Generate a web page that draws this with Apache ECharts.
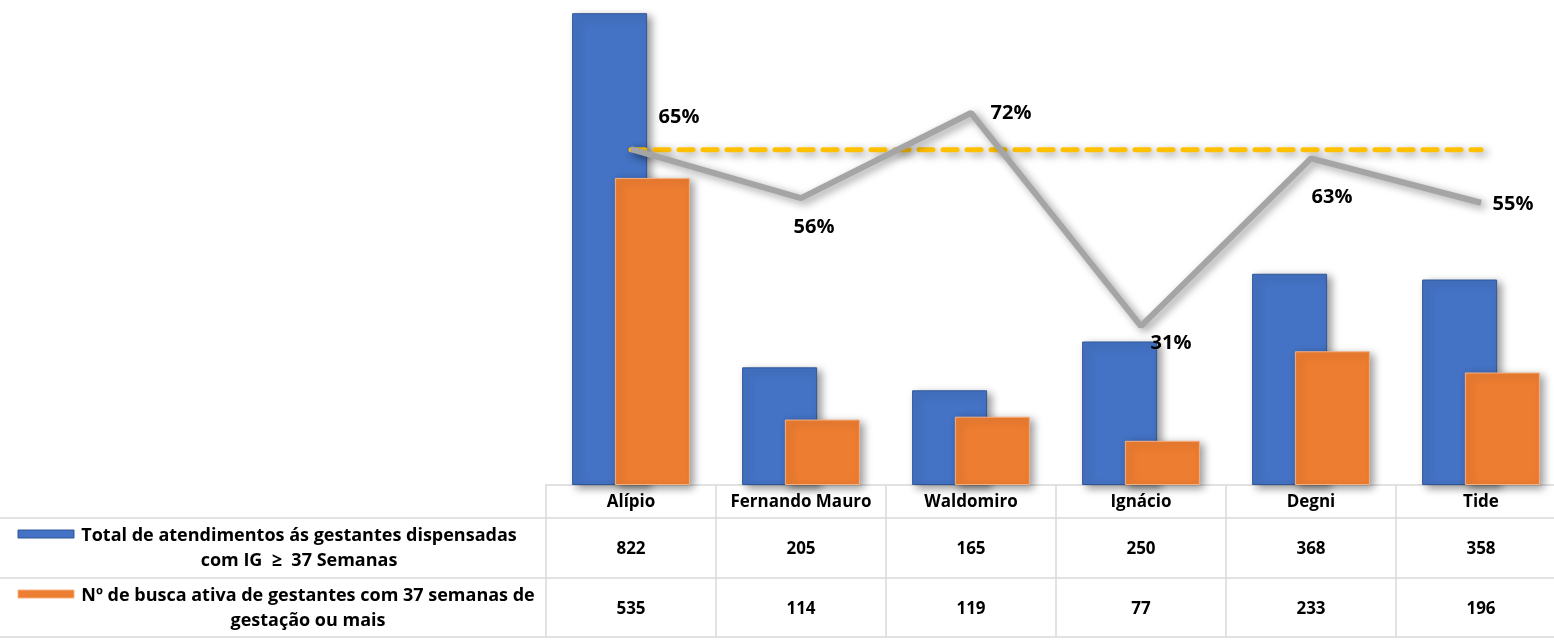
<!DOCTYPE html>
<html><head><meta charset="utf-8">
<script src="https://cdn.jsdelivr.net/npm/echarts@6/dist/echarts.min.js"></script>
<style>html,body{margin:0;padding:0;background:#fff;overflow:hidden;width:1554px;height:642px}#c{width:1570px;height:642px}</style>
</head><body><div id="c"></div>
<script>
const categories = ['Alípio','Fernando Mauro','Waldomiro','Ignácio','Degni','Tide'];
const seriesNames = ['Total de atendimentos ás gestantes dispensadas\ncom IG  ≥  37 Semanas','Nº de busca ativa de gestantes com 37 semanas de\ngestação ou mais'];
const totalAtend = [822,205,165,250,368,358];
const buscaAtiva = [535,114,119,77,233,196];
const percentual = [0.651,0.556,0.721,0.308,0.633,0.547];
const meta = [0.65,0.65,0.65,0.65,0.65,0.65];

const FONT = '"Open Sans"';
const labelOffsets = [[48,-32],[13,29],[40,0],[30,17],[21,39],[32,2]];
const chart = echarts.init(document.getElementById('c'));
const shadow = {shadowColor:'rgba(0,0,0,0.4)',shadowBlur:8,shadowOffsetX:4,shadowOffsetY:3};
const rowLines = [518,578,637];
const legendRows = [{y:548,cx:299,color:'#4472C4',border:'#2F5597'},{y:608,cx:308,color:'#ED7D31',border:'#F4B183'}];
const graphics = [];
rowLines.forEach(y=>graphics.push({type:'line',shape:{x1:0,y1:y,x2:1570,y2:y},style:{stroke:'#D9D9D9',lineWidth:1.5},silent:true}));
legendRows.forEach((r,i)=>{
  graphics.push({type:'rect',shape:{x:18,y:r.y-18,width:56,height:8},style:{fill:r.color,stroke:r.border,lineWidth:1}});
  graphics.push({type:'text',x:r.cx,y:r.y,style:{text:seriesNames[i],font:'bold 18px '+FONT,fill:'#000',align:'center',verticalAlign:'middle',lineHeight:25}});
});
chart.setOption({
  backgroundColor:'#fff',
  animation:false,
  grid:{left:546,top:0,width:1020,height:485},
  xAxis:{type:'category',data:categories,
    axisLine:{lineStyle:{color:'#D9D9D9',width:1.5}},
    axisTick:{show:true,length:152,lineStyle:{color:'#D9D9D9',width:1.5}},
    axisLabel:{margin:0,interval:0,
      formatter:(v,i)=>'{n|'+v+'}\n{v|'+totalAtend[i]+'}\n{v|'+buscaAtiva[i]+'}',
      rich:{n:{fontFamily:FONT,fontWeight:'bold',fontSize:17,lineHeight:34,color:'#000'},
            v:{fontFamily:FONT,fontWeight:'bold',fontSize:17,lineHeight:60,color:'#000'}}}},
  yAxis:[{type:'value',min:0,max:845,show:false,splitLine:{show:false}},
         {type:'value',min:0,max:0.94,show:false,splitLine:{show:false}}],
  graphic:graphics,
  series:[
    {name:'total',type:'bar',data:totalAtend,barWidth:75,barGap:'-43%',
      itemStyle:Object.assign({color:'#4472C4',borderColor:'#2F5597',borderWidth:1},shadow)},
    {name:'busca',type:'bar',data:buscaAtiva,barWidth:75,barGap:'-43%',
      itemStyle:Object.assign({color:'#ED7D31',borderColor:'#F4B183',borderWidth:1},shadow)},
    {name:'meta',type:'line',yAxisIndex:1,data:meta,symbol:'none',
      lineStyle:Object.assign({color:'#FFC000',width:5,type:[14,10],cap:'round'},shadow)},
    {name:'perc',type:'line',yAxisIndex:1,symbol:'circle',symbolSize:1,
      itemStyle:{color:'#A5A5A5'},
      data:percentual.map((v,i)=>({value:v,label:{offset:labelOffsets[i]}})),
      lineStyle:Object.assign({color:'#A5A5A5',width:6},shadow),
      label:{show:true,position:'inside',formatter:p=>Math.round(p.value*100)+'%',
        fontFamily:FONT,fontWeight:'bold',fontSize:20,color:'#000'}}
  ]
});
</script></body></html>
